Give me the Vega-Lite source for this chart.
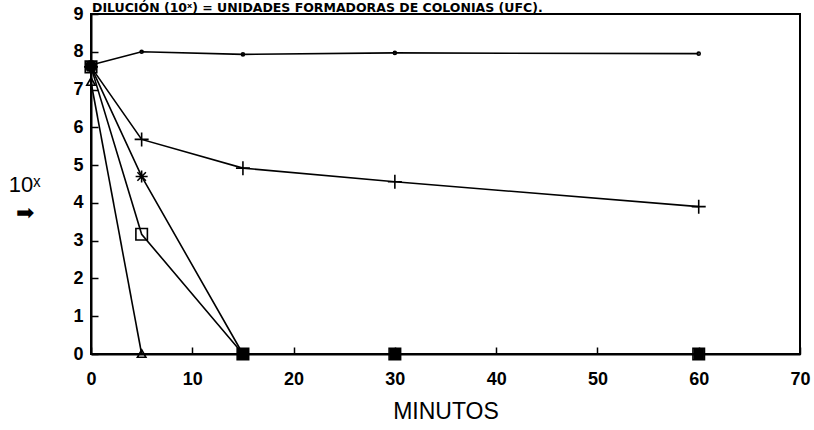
{
  "$schema": "https://vega.github.io/schema/vega-lite/v6.json",
  "autosize": "none",
  "width": 709,
  "height": 340,
  "padding": {"left": 91, "top": 14, "right": 14, "bottom": 76},
  "background": "white",
  "title": {
    "text": "DILUCIÓN (10ˣ) = UNIDADES FORMADORAS DE COLONIAS (UFC).",
    "anchor": "start",
    "frame": "group",
    "offset": 2,
    "dy": 24,
    "baseline": "bottom",
    "font": "DejaVu Sans",
    "fontSize": 12.5,
    "fontWeight": "bold",
    "color": "black",
    "dx": 1
  },
  "config": {
    "view": {"stroke": "black", "strokeWidth": 2},
    "axis": {
      "grid": false,
      "domainColor": "black",
      "domainWidth": 2,
      "tickColor": "black",
      "tickWidth": 1.5,
      "tickSize": -7,
      "labelFont": "Liberation Sans",
      "labelFontWeight": "bold",
      "labelFontSize": 18,
      "labelColor": "black",
      "labelFlush": false,
      "titleColor": "black"
    }
  },
  "datasets": {
    "series": [
      {"serie": "control", "minutos": 0, "ufc": 7.65},
      {"serie": "control", "minutos": 5, "ufc": 8.0},
      {"serie": "control", "minutos": 15, "ufc": 7.93},
      {"serie": "control", "minutos": 30, "ufc": 7.97},
      {"serie": "control", "minutos": 60, "ufc": 7.95},
      {"serie": "cruz", "minutos": 0, "ufc": 7.6},
      {"serie": "cruz", "minutos": 5, "ufc": 5.68},
      {"serie": "cruz", "minutos": 15, "ufc": 4.92},
      {"serie": "cruz", "minutos": 30, "ufc": 4.56},
      {"serie": "cruz", "minutos": 60, "ufc": 3.9},
      {"serie": "asterisco", "minutos": 0, "ufc": 7.6},
      {"serie": "asterisco", "minutos": 5, "ufc": 4.7},
      {"serie": "asterisco", "minutos": 15, "ufc": 0},
      {"serie": "cuadro", "minutos": 0, "ufc": 7.6},
      {"serie": "cuadro", "minutos": 5, "ufc": 3.17},
      {"serie": "cuadro", "minutos": 15, "ufc": 0},
      {"serie": "cuadro", "minutos": 30, "ufc": 0},
      {"serie": "cuadro", "minutos": 60, "ufc": 0},
      {"serie": "triangulo", "minutos": 0, "ufc": 7.2},
      {"serie": "triangulo", "minutos": 5, "ufc": 0}
    ],
    "ceros": [
      {"minutos": 15, "ufc": 0},
      {"minutos": 30, "ufc": 0},
      {"minutos": 60, "ufc": 0}
    ],
    "inicio": [
      {"minutos": 0, "ufc": 7.62}
    ]
  },
  "encoding": {
    "x": {
      "field": "minutos", "type": "quantitative",
      "scale": {"domain": [0, 70], "nice": false, "zero": false},
      "axis": {
        "values": [0, 10, 20, 30, 40, 50, 60, 70],
        "labelPadding": 23,
        "title": "MINUTOS",
        "titleFont": "Liberation Sans",
        "titleFontSize": 23,
        "titleFontWeight": "normal",
        "titleBaseline": "alphabetic",
        "titleY": 64
      }
    },
    "y": {
      "field": "ufc", "type": "quantitative",
      "scale": {"domain": [0, 9], "nice": false},
      "axis": {
        "values": [0, 1, 2, 3, 4, 5, 6, 7, 8, 9],
        "labelPadding": 15,
        "title": ["10ˣ", "➡"],
        "titleFont": "Liberation Sans",
        "titleFontSize": 22,
        "titleFontWeight": "normal",
        "titleAngle": 0,
        "titleAlign": "center",
        "titleBaseline": "top",
        "titleLineHeight": 28,
        "titleX": -67,
        "titleY": 160
      }
    }
  },
  "layer": [
    {
      "data": {"name": "series"},
      "mark": {"type": "line", "color": "black", "strokeWidth": 1.6},
      "encoding": {"detail": {"field": "serie"}}
    },
    {
      "data": {"name": "series"},
      "mark": {"type": "point", "filled": false, "stroke": "black", "strokeWidth": 1.6, "opacity": 1, "size": 100},
      "encoding": {
        "shape": {
          "field": "serie", "type": "nominal", "legend": null,
          "scale": {
            "domain": ["control", "cruz", "asterisco", "cuadro", "triangulo"],
            "range": [
              "M-0.3,0A0.3,0.3 0 1,0 0.3,0A0.3,0.3 0 1,0 -0.3,0Z",
              "M-1.4,0H1.4M0,-1.4V1.4",
              "M-1.2,0H1.2M0,-1.2V1.2M-0.85,-0.85L0.85,0.85M-0.85,0.85L0.85,-0.85",
              "M-1.15,-1.15H1.15V1.15H-1.15Z",
              "M0,-0.85L0.85,0.65H-0.85Z"
            ]
          }
        }
      }
    },
    {
      "data": {"name": "ceros"},
      "mark": {"type": "square", "filled": true, "color": "black", "size": 110, "opacity": 1}
    },
    {
      "data": {"name": "inicio"},
      "mark": {"type": "circle", "color": "black", "size": 150, "opacity": 1}
    }
  ]
}
